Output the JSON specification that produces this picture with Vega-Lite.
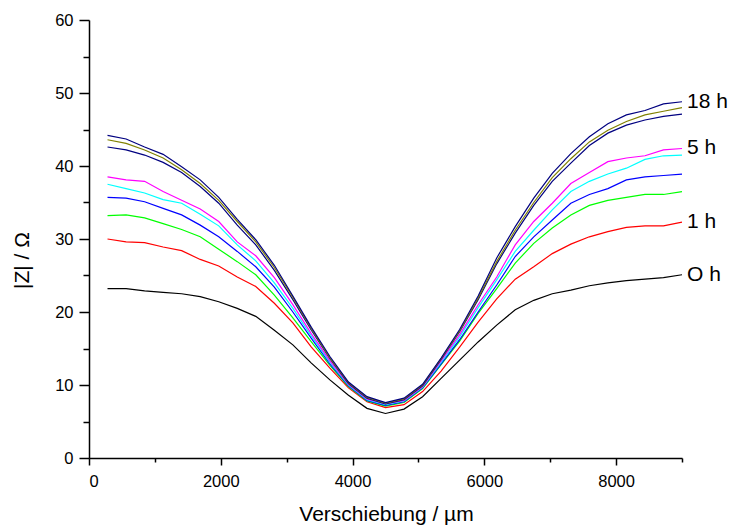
{
  "$schema": "https://vega.github.io/schema/vega-lite/v6.json",
  "width": 593,
  "height": 438,
  "autosize": "none",
  "padding": {"left": 89, "top": 20, "right": 48, "bottom": 69},
  "background": "white",
  "config": {
    "view": {"stroke": null},
    "axis": {
      "grid": false,
      "labelFont": "Liberation Sans",
      "titleFont": "Liberation Sans",
      "labelColor": "black",
      "titleColor": "black",
      "titleFontWeight": "normal",
      "domainColor": "black",
      "domainWidth": 1.5,
      "tickColor": "black",
      "tickWidth": 1.5,
      "labelFontSize": 16
    }
  },
  "data": {
    "values": [
      {"x": 281, "0 h": 23.2, "1 h": 30.0, "2 h": 33.2, "3 h": 35.7, "4 h": 37.5, "5 h": 38.5, "run 7": 42.6, "run 8": 43.6, "18 h": 44.2},
      {"x": 563, "0 h": 23.2, "1 h": 29.6, "2 h": 33.3, "3 h": 35.6, "4 h": 36.9, "5 h": 38.1, "run 7": 42.2, "run 8": 43.1, "18 h": 43.7},
      {"x": 844, "0 h": 22.9, "1 h": 29.5, "2 h": 32.9, "3 h": 35.1, "4 h": 36.3, "5 h": 37.9, "run 7": 41.5, "run 8": 42.2, "18 h": 42.6},
      {"x": 1125, "0 h": 22.7, "1 h": 28.9, "2 h": 32.1, "3 h": 34.2, "4 h": 35.4, "5 h": 36.5, "run 7": 40.5, "run 8": 41.1, "18 h": 41.6},
      {"x": 1406, "0 h": 22.5, "1 h": 28.4, "2 h": 31.3, "3 h": 33.3, "4 h": 34.9, "5 h": 35.3, "run 7": 39.1, "run 8": 39.5, "18 h": 39.9},
      {"x": 1688, "0 h": 22.1, "1 h": 27.2, "2 h": 30.3, "3 h": 31.9, "4 h": 33.4, "5 h": 34.1, "run 7": 37.2, "run 8": 37.6, "18 h": 38.1},
      {"x": 1969, "0 h": 21.4, "1 h": 26.3, "2 h": 28.6, "3 h": 30.3, "4 h": 31.8, "5 h": 32.4, "run 7": 34.9, "run 8": 35.3, "18 h": 35.7},
      {"x": 2250, "0 h": 20.5, "1 h": 24.8, "2 h": 26.9, "3 h": 28.3, "4 h": 29.2, "5 h": 29.6, "run 7": 31.9, "run 8": 32.4, "18 h": 32.7},
      {"x": 2531, "0 h": 19.4, "1 h": 23.5, "2 h": 25.1, "3 h": 26.2, "4 h": 27.0, "5 h": 27.7, "run 7": 29.2, "run 8": 29.6, "18 h": 29.9},
      {"x": 2813, "0 h": 17.5, "1 h": 21.2, "2 h": 22.3, "3 h": 23.4, "4 h": 24.0, "5 h": 24.7, "run 7": 25.7, "run 8": 26.1, "18 h": 26.4},
      {"x": 3094, "0 h": 15.5, "1 h": 18.5, "2 h": 19.2, "3 h": 20.0, "4 h": 20.5, "5 h": 21.0, "run 7": 21.7, "run 8": 22.0, "18 h": 22.2},
      {"x": 3375, "0 h": 13.0, "1 h": 15.2, "2 h": 15.9, "3 h": 16.4, "4 h": 16.7, "5 h": 17.0, "run 7": 17.5, "run 8": 17.7, "18 h": 17.9},
      {"x": 3656, "0 h": 10.7, "1 h": 12.3, "2 h": 12.7, "3 h": 12.9, "4 h": 13.1, "5 h": 13.3, "run 7": 13.6, "run 8": 13.7, "18 h": 13.9},
      {"x": 3938, "0 h": 8.6, "1 h": 9.6, "2 h": 9.8, "3 h": 9.9, "4 h": 10.0, "5 h": 10.1, "run 7": 10.2, "run 8": 10.3, "18 h": 10.4},
      {"x": 4219, "0 h": 6.8, "1 h": 7.7, "2 h": 7.8, "3 h": 7.9, "4 h": 8.0, "5 h": 8.1, "run 7": 8.2, "run 8": 8.3, "18 h": 8.4},
      {"x": 4500, "0 h": 6.1, "1 h": 6.9, "2 h": 7.1, "3 h": 7.2, "4 h": 7.3, "5 h": 7.4, "run 7": 7.4, "run 8": 7.5, "18 h": 7.6},
      {"x": 4781, "0 h": 6.7, "1 h": 7.3, "2 h": 7.6, "3 h": 7.7, "4 h": 7.8, "5 h": 7.9, "run 7": 8.0, "run 8": 8.1, "18 h": 8.2},
      {"x": 5063, "0 h": 8.4, "1 h": 9.1, "2 h": 9.5, "3 h": 9.6, "4 h": 9.7, "5 h": 9.8, "run 7": 9.9, "run 8": 10.0, "18 h": 10.1},
      {"x": 5344, "0 h": 10.9, "1 h": 11.9, "2 h": 12.8, "3 h": 12.9, "4 h": 13.1, "5 h": 13.3, "run 7": 13.5, "run 8": 13.6, "18 h": 13.7},
      {"x": 5625, "0 h": 13.4, "1 h": 15.2, "2 h": 16.0, "3 h": 16.2, "4 h": 16.6, "5 h": 16.9, "run 7": 17.3, "run 8": 17.4, "18 h": 17.6},
      {"x": 5906, "0 h": 15.9, "1 h": 18.6, "2 h": 19.8, "3 h": 20.0, "4 h": 20.6, "5 h": 21.0, "run 7": 21.7, "run 8": 21.9, "18 h": 22.2},
      {"x": 6188, "0 h": 18.2, "1 h": 21.8, "2 h": 23.2, "3 h": 23.7, "4 h": 24.4, "5 h": 24.8, "run 7": 26.6, "run 8": 26.9, "18 h": 27.4},
      {"x": 6469, "0 h": 20.3, "1 h": 24.5, "2 h": 26.7, "3 h": 27.6, "4 h": 28.3, "5 h": 29.2, "run 7": 30.8, "run 8": 31.2, "18 h": 31.7},
      {"x": 6750, "0 h": 21.6, "1 h": 26.2, "2 h": 29.4, "3 h": 30.3, "4 h": 31.2, "5 h": 32.4, "run 7": 34.6, "run 8": 35.0, "18 h": 35.6},
      {"x": 7031, "0 h": 22.5, "1 h": 28.0, "2 h": 31.5, "3 h": 32.6, "4 h": 34.0, "5 h": 34.9, "run 7": 37.9, "run 8": 38.4, "18 h": 39.0},
      {"x": 7313, "0 h": 23.0, "1 h": 29.3, "2 h": 33.3, "3 h": 34.9, "4 h": 36.5, "5 h": 37.6, "run 7": 40.4, "run 8": 41.0, "18 h": 41.7},
      {"x": 7594, "0 h": 23.6, "1 h": 30.3, "2 h": 34.6, "3 h": 36.1, "4 h": 37.9, "5 h": 39.1, "run 7": 42.8, "run 8": 43.3, "18 h": 44.0},
      {"x": 7875, "0 h": 24.0, "1 h": 31.0, "2 h": 35.3, "3 h": 36.9, "4 h": 38.9, "5 h": 40.6, "run 7": 44.5, "run 8": 44.9, "18 h": 45.8},
      {"x": 8156, "0 h": 24.3, "1 h": 31.6, "2 h": 35.7, "3 h": 38.1, "4 h": 39.7, "5 h": 41.1, "run 7": 45.6, "run 8": 46.1, "18 h": 47.0},
      {"x": 8438, "0 h": 24.5, "1 h": 31.8, "2 h": 36.1, "3 h": 38.5, "4 h": 40.9, "5 h": 41.4, "run 7": 46.3, "run 8": 47.0, "18 h": 47.6},
      {"x": 8719, "0 h": 24.7, "1 h": 31.8, "2 h": 36.1, "3 h": 38.7, "4 h": 41.4, "5 h": 42.2, "run 7": 46.8, "run 8": 47.5, "18 h": 48.5},
      {"x": 9000, "0 h": 25.1, "1 h": 32.3, "2 h": 36.5, "3 h": 38.9, "4 h": 41.5, "5 h": 42.4, "run 7": 47.1, "run 8": 48.0, "18 h": 48.8}
    ]
  },
  "transform": [
    {"fold": ["0 h", "1 h", "2 h", "3 h", "4 h", "5 h", "run 7", "run 8", "18 h"], "as": ["run", "z"]}
  ],
  "layer": [
    {
      "mark": {"type": "line", "strokeWidth": 1.2},
      "encoding": {
        "x": {
          "field": "x",
          "type": "quantitative",
          "scale": {"domain": [0, 9000], "nice": false},
          "axis": {
            "orient": "bottom",
            "values": [0, 2000, 4000, 6000, 8000],
            "format": "d",
            "tickSize": 7,
            "labelPadding": 8,
            "labelFontSize": 16.5,
            "title": "Verschiebung / µm",
            "titleFontSize": 21,
            "titleX": 297,
            "titleY": 62,
            "titleBaseline": "alphabetic"
          }
        },
        "y": {
          "field": "z",
          "type": "quantitative",
          "scale": {"domain": [0, 60], "nice": false},
          "axis": {
            "orient": "left",
            "values": [0, 10, 20, 30, 40, 50, 60],
            "tickSize": 10,
            "labelPadding": 6,
            "labelFontSize": 16.5,
            "title": "|Z|  /  Ω",
            "titleFontSize": 21,
            "titleX": -67,
            "titleY": 240,
            "titleBaseline": "middle"
          }
        },
        "color": {
          "field": "run",
          "type": "nominal",
          "scale": {
            "domain": ["0 h", "1 h", "2 h", "3 h", "4 h", "5 h", "run 7", "run 8", "18 h"],
            "range": ["#000000", "#ff0000", "#00ff00", "#0000ff", "#00ffff", "#ff00ff", "#000080", "#808000", "#000080"]
          },
          "legend": null
        }
      }
    },
    {
      "transform": [
        {"filter": "datum.x == 9000"},
        {
          "lookup": "run",
          "from": {
            "data": {"values": [
              {"run": "0 h", "label": "O h"},
              {"run": "1 h", "label": "1 h"},
              {"run": "5 h", "label": "5 h"},
              {"run": "18 h", "label": "18 h"}
            ]},
            "key": "run",
            "fields": ["label"]
          }
        },
        {"filter": "isValid(datum.label)"}
      ],
      "mark": {"type": "text", "align": "left", "baseline": "middle", "dx": 5, "fontSize": 21, "font": "Liberation Sans", "color": "black"},
      "encoding": {
        "x": {
          "field": "x",
          "type": "quantitative",
          "axis": {"orient": "bottom", "values": [1000, 3000, 5000, 7000, 9000], "tickSize": 4, "labels": false, "domain": false, "title": null}
        },
        "y": {
          "field": "z",
          "type": "quantitative",
          "axis": {"orient": "left", "values": [5, 15, 25, 35, 45, 55], "tickSize": 6, "labels": false, "domain": false, "title": null}
        },
        "text": {"field": "label"}
      }
    }
  ],
  "resolve": {"axis": {"x": "independent", "y": "independent"}}
}
